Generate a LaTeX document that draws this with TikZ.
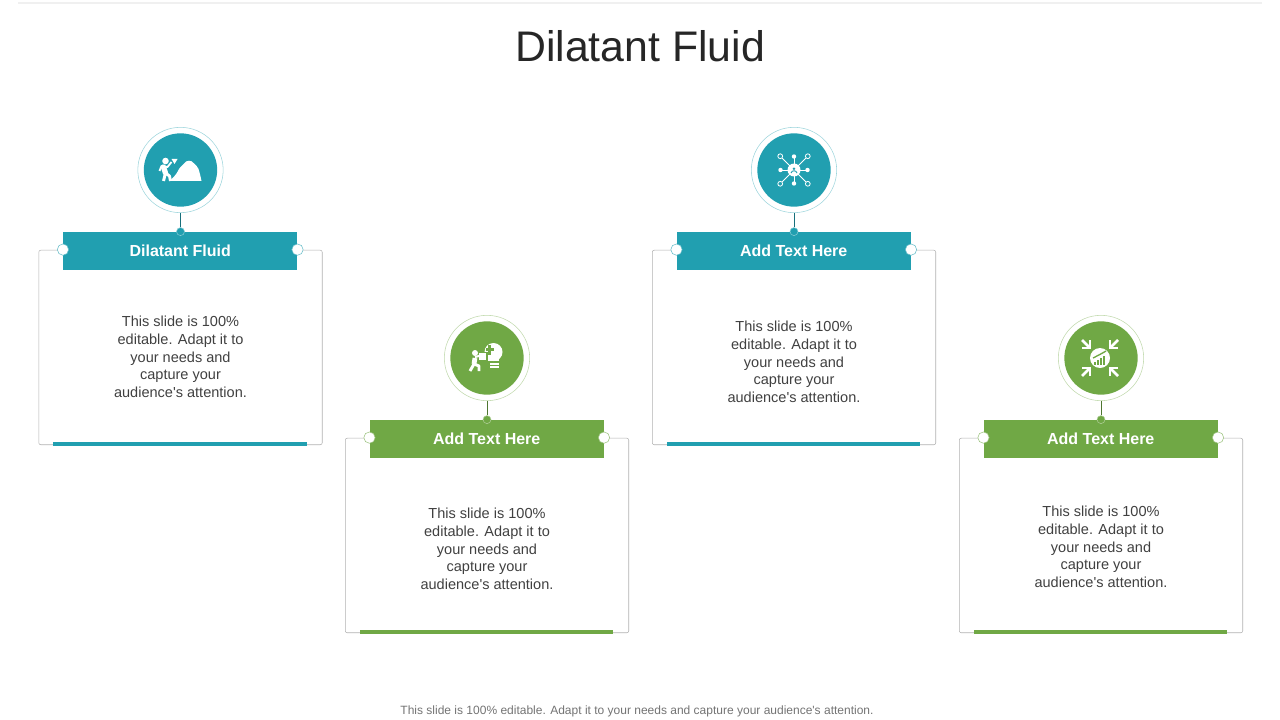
\documentclass[tikz,border=0pt]{standalone}
\usepackage{fontspec}
\setmainfont{Liberation Sans}[Ligatures=TeXOff]
\usetikzlibrary{positioning}

\definecolor{tealfill}{HTML}{219FB0}
\definecolor{greenfill}{HTML}{70A845}
\definecolor{boxline}{HTML}{B0B0B0}
\definecolor{bodytext}{HTML}{404040}

\tikzset{
  hub/.style      = {circle, inner sep=0pt, minimum size=55pt},
  ring/.style     = {circle, draw, thin, inner sep=0pt, minimum size=64pt},
  header/.style   = {rectangle, inner sep=0pt, minimum width=175.5pt, minimum height=28.5pt,
                     text=white, font=\fontsize{12}{14}\selectfont\bfseries},
  panel/.style    = {rectangle, draw=boxline, rounded corners=1.5pt, inner sep=0pt,
                     minimum width=212.6pt, minimum height=145.9pt},
  bar/.style      = {rectangle, inner sep=0pt, minimum width=190pt, minimum height=2.6pt},
  sidedot/.style  = {circle, draw, fill=white, inner sep=0pt, minimum size=8.5pt},
  topdot/.style   = {circle, draw, inner sep=0pt, minimum size=6pt},
  blurb/.style    = {align=center, text=bodytext, font=\fontsize{10.9}{13.3}\selectfont},
  icon/.style     = {white, fill=white, line join=round}
}

\begin{document}
\begin{tikzpicture}[x=0.75pt, y=-0.75pt]
\useasboundingbox (0,0) rectangle (1280,720);

\node[font=\fontsize{32.1}{38}\selectfont, text=black!85] (title) at (640,46) {Dilatant Fluid};
\node[font=\fontsize{9}{11}\selectfont, text=black!55] (footer) at (637,711)
  {This slide is 100\% editable. Adapt it to your needs and capture your audience's attention.};
\coordinate (ruleL) at (18,3);
\coordinate (ruleR) at (1262,3);
\draw[black!6, thick] (ruleL) -- (ruleR);

% The four cards, top circle first and the rest relative to it
\foreach \i/\cx/\cy/\col/\head/\shift in {
  1/180.5/170/tealfill/Dilatant Fluid/-7.1,
  2/487/358/greenfill/Add Text Here/-10.1,
  3/794/170/tealfill/Add Text Here/-10.85,
  4/1101/358/greenfill/Add Text Here/-8.6}
{
  \node[ring, draw=\col!45] (r\i) at (\cx,\cy) {};
  \node[hub, fill=\col] (c\i) at (\cx,\cy) {};
  \node[panel, below of=r\i, node distance=133.1pt] (b\i) {};
  \node[header, fill=\col, below=14pt of r\i, xshift=-0.2pt] (h\i) {\head};
  \node[bar, fill=\col, anchor=south] (s\i) at ([xshift=-0.5pt, yshift=-0.6pt]b\i.south) {};
  \node[sidedot, draw=\col!70] (l\i) at ([yshift=-13.5pt]h\i.north west) {};
  \node[sidedot, draw=\col!70] (m\i) at ([yshift=-13.5pt]h\i.north east) {};
  \node[topdot, fill=\col, draw=\col!55] (p\i) at ([xshift=0.2pt]h\i.north) {};
  \node[blurb, yshift=\shift pt] (t\i) at (b\i)
    {This slide is 100\%\\editable. Adapt it to\\your needs and\\capture your\\audience's attention.};
  \draw[\col!70!black] (r\i) -- (p\i);
}

% Icon one, climber and rock
\begin{scope}[shift={(c1.center)}]
\fill[icon] (-11,11) -- (-6,6) .. controls (-3,3) and (-2,-1) .. (0,-3)
  .. controls (1,-5) and (3,-5) .. (4,-7) .. controls (6,-10) and (11,-10) .. (13,-7)
  .. controls (15,-5) and (17,-4) .. (18,-1) .. controls (19,2) and (20,6) .. (21,11) -- cycle;
\fill[icon] (-15,-9) circle (3.3);
\draw[icon, line width=4pt, fill=none, line cap=round] (-17,-3) -- (-15,3);
\draw[icon, line width=2.2pt, fill=none] (-15,3) -- (-17,11);
\draw[icon, line width=2.2pt, fill=none] (-15,3) -- (-11,6) -- (-10,11);
\draw[icon, line width=1.4pt, fill=none] (-21,1) -- (-19,-4) -- (-13,-3) -- (-9,-8);
\fill[icon] (-9,-11) -- (-3,-11) -- (-6,-6) -- cycle;
\end{scope}

% Icon two, puzzle and bulb
\begin{scope}[shift={(c2.center)}]
\fill[icon] (6.5,-6) circle (9);
\fill[icon] (1,-2) rectangle (12,3);
\fill[icon] (3,4.5) rectangle (12,6.5);
\fill[icon] (3,7.5) rectangle (12,9.5);
\fill[greenfill] (-1,-10) rectangle (7,-7);
\fill[greenfill] (1,-13) rectangle (4,-3);
\fill[greenfill] (-3,-6) rectangle (1,4);
\fill[icon] (-8,-5) rectangle (-1,2);
\fill[icon] (-12,-5) circle (3);
\draw[icon, line width=3.6pt, fill=none] (-12,0) -- (-13,6);
\draw[icon, line width=2.2pt, fill=none] (-13,6) -- (-17,13);
\draw[icon, line width=2.2pt, fill=none] (-13,6) -- (-8,8) -- (-8,13);
\draw[icon, line width=1.6pt, fill=none] (-12,-1) -- (-8,-2);
\end{scope}

% Icon three, network
\begin{scope}[shift={(c3.center)}]
\foreach \ang in {0,90,180,270} {
  \draw[white, line width=0.6pt] (\ang:5) -- (\ang:13);
  \fill[icon] (\ang:13.5) circle (2.2);
}
\foreach \ang in {45,135,225,315} {
  \draw[white, line width=0.6pt] (\ang:5) -- (\ang:17);
  \draw[white, line width=0.6pt, fill=tealfill] (\ang:19.5) circle (2.4);
}
\fill[icon] (0,0) circle (6.5);
\fill[tealfill] (0,-1.2) circle (1.4);
\draw[tealfill, line width=0.7pt] (-3,3) .. controls (-2,0) and (2,0) .. (3,3);
\end{scope}

% Icon four, arrows to chart
\begin{scope}[shift={(c4.center)}]
\fill[icon] (-1,0) circle (10);
\foreach \bx/\by in {-7/4,-4/2,-1/0,2/-2}
  \fill[greenfill] (\bx,\by) rectangle (\bx+2,7);
\draw[greenfill, line width=1pt] (-8,0) .. controls (-4,-2) and (0,-4) .. (5,-7);
\foreach \sx/\sy in {1/1,1/-1,-1/1,-1/-1} {
  \draw[white, line width=2pt] (\sx*18-1,\sy*18) -- (\sx*11-1,\sy*11);
  \draw[white, line width=2pt] (\sx*10-1,\sy*18) -- (\sx*10-1,\sy*10) -- (\sx*18-1,\sy*10);
}
\end{scope}

\end{tikzpicture}
\end{document}
